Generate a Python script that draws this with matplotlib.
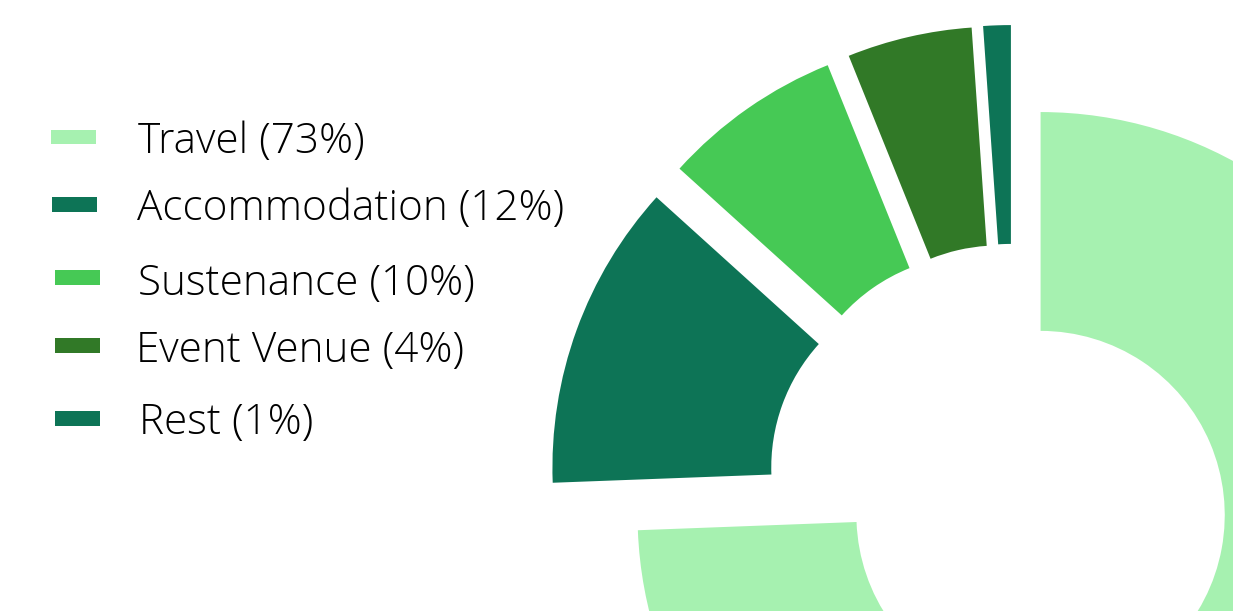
import matplotlib
matplotlib.use("Agg")
import matplotlib.pyplot as plt
from matplotlib.patches import Rectangle

# ---- data ----
categories = ["Travel", "Accommodation", "Sustenance", "Event Venue", "Rest"]
label_pcts = ["73%", "12%", "10%", "4%", "1%"]
values = [74.4, 12.3, 7.2, 5.0, 1.1]          # slice sizes
colors = ["#a6f1b0", "#0d7456", "#46c955", "#317927", "#0d7456"]

# ---- layout (pixels) ----
W, H = 1233, 611
R_PX = 403.0
CX, CY = 1013.0, 488.5
explode = [0.095, 0.152, 0.150, 0.150, 0.150]
ring_width = 0.543

legend_rect_x = [51, 52, 55, 55, 55]
legend_rect_y = [129.5, 197, 270, 338, 411]
legend_text_x = [138, 137, 138, 136, 139]
legend_baseline = [152.7, 220, 295, 361.7, 434.3]

fig = plt.figure(figsize=(W / 100, H / 100), dpi=100)
fig.patch.set_facecolor("white")

ax = fig.add_axes([0, 0, 1, 1])
ax.pie(values, explode=explode, colors=colors, startangle=90,
       counterclock=False, radius=1,
       wedgeprops=dict(width=ring_width, linewidth=0))
ax.set_aspect("auto")
ax.set_xlim(-CX / R_PX, (W - CX) / R_PX)
ax.set_ylim((CY - H) / R_PX, CY / R_PX)
ax.axis("off")

# legend overlay in pixel coordinates
lax = fig.add_axes([0, 0, 1, 1], facecolor="none")
lax.set_xlim(0, W)
lax.set_ylim(H, 0)
lax.axis("off")
for i, (cat, pct) in enumerate(zip(categories, label_pcts)):
    lax.add_patch(Rectangle((legend_rect_x[i], legend_rect_y[i]), 45, 14.5,
                            facecolor=colors[i], edgecolor="none"))
    lax.text(legend_text_x[i], legend_baseline[i], f"{cat} ({pct})",
             fontsize=30.4, family=["Open Sans", "DejaVu Sans"], fontweight="light",
             color="#000000", va="baseline", ha="left")

fig.savefig("out.png", dpi=100, facecolor="white")
